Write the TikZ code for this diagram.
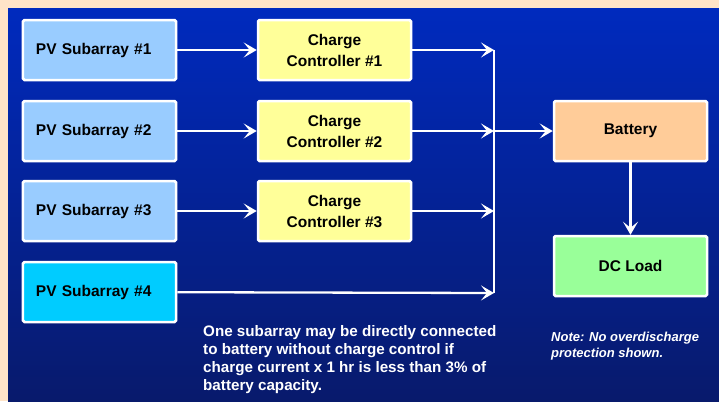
\documentclass[tikz,border=0pt]{standalone}
\usepackage{fontspec}
\setmainfont{Liberation Sans}
\usetikzlibrary{arrows.meta,positioning,calc}

\definecolor{frame}{RGB}{255,228,200}
\definecolor{bgtop}{RGB}{0,42,190}
\definecolor{bgbot}{RGB}{8,26,108}
\definecolor{pvblue}{RGB}{153,204,255}
\definecolor{pvcyan}{RGB}{0,204,255}
\definecolor{ccyellow}{RGB}{255,255,153}
\definecolor{batorange}{RGB}{255,204,153}
\definecolor{loadgreen}{RGB}{153,255,153}

\begin{document}
\begin{tikzpicture}[x=1bp, y=-1bp,
  blk/.style={draw=white, line width=2.5bp, rounded corners=1.5bp,
    minimum width=153bp, minimum height=60bp, align=center, text=black,
    font=\fontsize{15.5bp}{21bp}\selectfont\bfseries},
  pvlabel/.style={text width=145bp, align=left},
  wire/.style={draw=white, line width=2.3bp},
  arr/.style={wire, -{Stealth[length=13bp,width=15bp,inset=6bp]}}]
  % Background
  \useasboundingbox (0,0) rectangle (719,401);
  \fill[frame] (0,0) rectangle (719,401);
  \shade[top color=bgtop, bottom color=bgbot] (8,8) rectangle (719,401);

  % PV subarrays
  \node[blk, pvlabel, fill=pvblue] (pv1) at (99.5, 50) {\hspace*{9bp}PV Subarray \#1};
  \node[blk, pvlabel, fill=pvblue] (pv2) at (99.5, 131) {\hspace*{9bp}PV Subarray \#2};
  \node[blk, pvlabel, fill=pvblue] (pv3) at (99.5, 211) {\hspace*{9bp}PV Subarray \#3};
  \node[blk, pvlabel, fill=pvcyan] (pv4) at (99.5, 292) {\hspace*{9bp}PV Subarray \#4};

  % Charge controllers
  \node[blk, fill=ccyellow] (cc1) at (334.5, 50) {Charge\\Controller \#1};
  \node[blk, fill=ccyellow] (cc2) at (334.5, 131) {Charge\\Controller \#2};
  \node[blk, fill=ccyellow] (cc3) at (334.5, 211) {Charge\\Controller \#3};

  % Battery and load
  \node[blk, fill=batorange] (bat) at (630.5, 131) {Battery};
  \node[blk, fill=loadgreen] (load) at (630.5, 266) {DC Load};

  % Bus
  \coordinate (bus1) at (494, 50);
  \coordinate (bus2) at (494, 131);
  \coordinate (bus3) at (494, 211);
  \coordinate (bus4) at (494, 293);
  \draw[wire] (bus1) -- (bus4);

  % Connections
  \foreach \i in {1,2,3} {
    \draw[arr] (pv\i) -- (cc\i);
    \draw[arr] (cc\i) -- (bus\i);
  }
  \draw[arr] (pv4) -- (bus4);
  \draw[arr] (bus2) -- (bat);
  \draw[arr] (bat) -- (load);

  % Notes
  \node[anchor=north west, inner sep=0, align=left, text=white,
    font=\fontsize{15.2bp}{18bp}\selectfont\bfseries] (note1) at (203, 325)
    {One subarray may be directly connected\\to battery without charge control if\\charge current x 1 hr is less than 3\% of\\battery capacity.};
  \node[anchor=north west, inner sep=0, align=left, text=white,
    font=\fontsize{13bp}{16bp}\selectfont\bfseries\itshape] (note2) at (551, 332)
    {Note: No overdischarge\\protection shown.};
\end{tikzpicture}
\end{document}
